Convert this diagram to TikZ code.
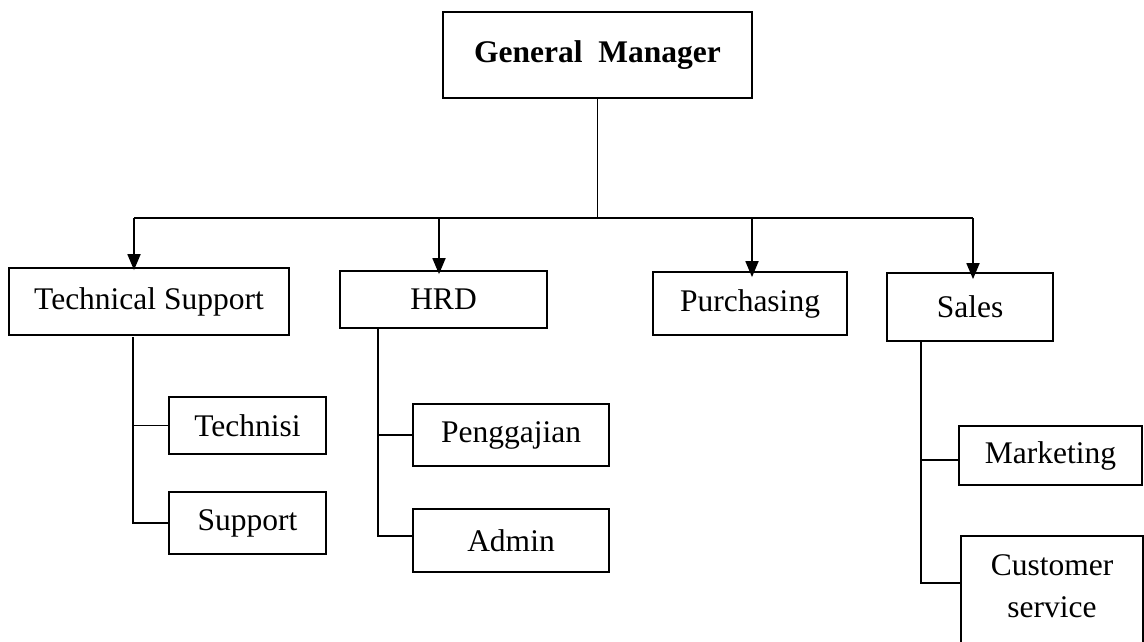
\documentclass[tikz,border=0pt]{standalone}
\usepackage{fontspec}
\setmainfont{Liberation Serif}
\usetikzlibrary{arrows.meta}
\begin{document}
\begin{tikzpicture}[x=1pt,y=-1pt,
  box/.style={draw,line width=1.8pt,inner sep=0pt,align=center,font=\fontsize{31.5}{42}\selectfont},
  conn/.style={line width=1.8pt},
  arr/.style={line width=1.8pt,-{Triangle[length=16pt,width=13pt]}}]
\useasboundingbox (0,0) rectangle (1144,641);
% top
\node[box,font=\fontsize{31.5}{42}\selectfont\bfseries,minimum width=309,minimum height=86] (gm) at (597.5,55) {General\ \ Manager};
% level 1
\node[box,minimum width=280,minimum height=67] (ts) at (149,301.5) {Technical Support};
\node[box,minimum width=207,minimum height=57] (hrd) at (443.5,299.5) {HRD};
\node[box,minimum width=194,minimum height=63] (pur) at (750,303.5) {Purchasing};
\node[box,minimum width=166,minimum height=68] (sal) at (970,307) {Sales};
% level 2
\node[box,minimum width=157,minimum height=57] (tec) at (247.5,425.5) {Technisi};
\node[box,minimum width=157,minimum height=62] (sup) at (247.5,523) {Support};
\node[box,minimum width=196,minimum height=62] (gaj) at (511,435) {Penggajian};
\node[box,minimum width=196,minimum height=63] (adm) at (511,540.5) {Admin};
\node[box,minimum width=183,minimum height=59] (mkt) at (1050.5,455.5) {Marketing};
\node[box,minimum width=182,minimum height=150,anchor=north] (cs) at (1052,535) {};
\node[align=center,inner sep=0pt,font=\fontsize{31.5}{42}\selectfont] (cst) at (1052,586) {Customer\\service};
% bus
\coordinate (b1) at (134,218);
\coordinate (b2) at (439,218);
\coordinate (b3) at (752,218);
\coordinate (b4) at (973,218);
\draw[line width=1.2pt] (gm.south) -- (gm.south |- b1);
\draw[line width=2.6pt] (b1) -- (b4);
\draw[arr] (b1) -- ([yshift=-3pt]ts.north -| b1);
\draw[arr] (b2) -- ([yshift=-4pt]hrd.north -| b2);
\draw[arr] (b3) -- ([yshift=-6pt]pur.north -| b3);
\draw[arr] (b4) -- ([yshift=-7pt]sal.north -| b4);
% technical support branch
\coordinate (tv) at (133,337);
\draw[conn] (tv) -- (tv |- sup.west) -- (sup.west);
\draw[conn] (tv |- tec.west) -- (tec.west);
% HRD branch
\coordinate (hv) at (378,328);
\draw[conn] (hv) -- (378,536) coordinate (hb) -- (hb -| adm.west);
\draw[conn] (hv |- gaj.west) -- (gaj.west);
% Sales branch
\coordinate (sv) at (921,341);
\coordinate (sm) at (921,460);
\coordinate (sc) at (921,583);
\draw[conn] (sv) -- (sc) -- (sc -| cs.west);
\draw[conn] (sm) -- (sm -| mkt.west);
\end{tikzpicture}
\end{document}
